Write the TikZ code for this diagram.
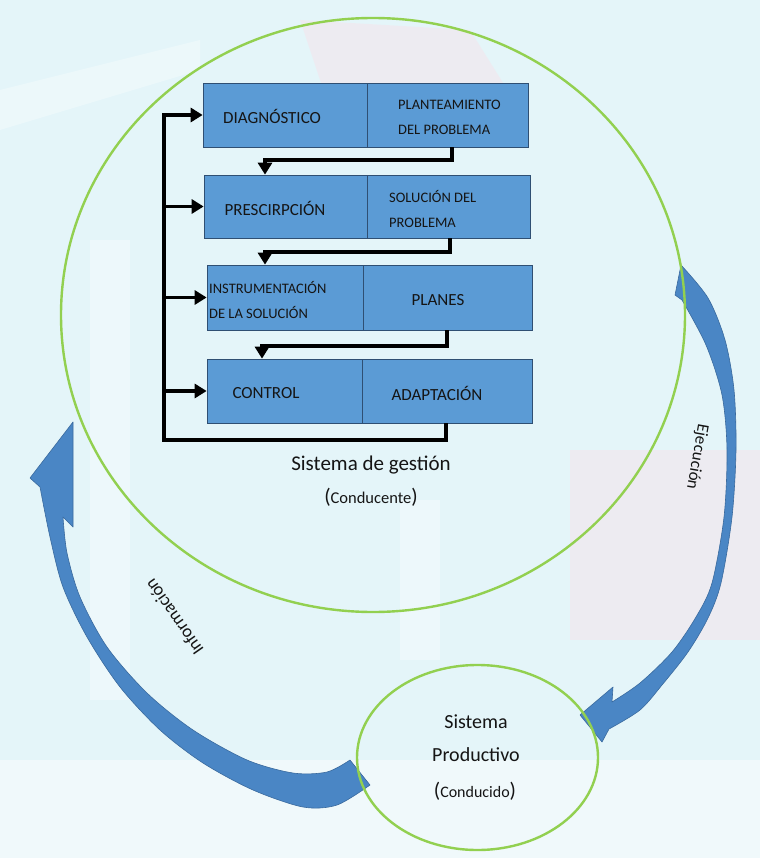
\documentclass[tikz,border=0pt]{standalone}
\usepackage{fontspec}
\setmainfont{Carlito}
\usetikzlibrary{arrows.meta,shapes.geometric}
\definecolor{bg}{HTML}{E4F5F9}
\definecolor{boxblue}{HTML}{5B9BD5}
\definecolor{boxedge}{HTML}{2F4F73}
\definecolor{arrblue}{HTML}{4A86C5}
\definecolor{arredge}{HTML}{3A6A9E}
\definecolor{ringgreen}{HTML}{92D050}
\definecolor{txt}{HTML}{151515}
\definecolor{pinkish}{HTML}{F7E3EA}
\begin{document}
\begin{tikzpicture}[x=1pt,y=-1pt,
  half/.style={draw=boxedge, line width=0.7pt, fill=boxblue, inner sep=0pt},
  lbl/.style={font=\fontsize{17}{20}\selectfont, text=txt, inner sep=0pt},
  lbltwo/.style={font=\fontsize{14.5}{25}\selectfont, text=txt, align=left, inner sep=0pt, anchor=west},
  flow/.style={line width=3.2pt, draw=black, line join=miter},
  arr/.style={flow, -{Triangle[length=12pt,width=14pt]}},
  ring/.style={draw=ringgreen, line width=2.4pt, ellipse, inner sep=0pt},
  bigarrow/.style={fill=arrblue, draw=arredge, line width=0.6pt, line join=round},
  caption/.style={text=txt, inner sep=0pt, align=center}
]
\useasboundingbox (0,0) rectangle (760,858);
\fill[bg] (0,0) rectangle (760,858);
% faint background photo hints
\fill[pinkish, opacity=0.5] (300,20) -- (470,30) -- (520,110) -- (330,110) -- cycle;
\fill[pinkish, opacity=0.5] (570,450) rectangle (760,640);
\fill[white, opacity=0.3] (0,90) -- (200,40) -- (200,70) -- (0,130) -- cycle;
\fill[white, opacity=0.35] (90,240) rectangle (130,700);
\fill[white, opacity=0.35] (400,500) rectangle (440,660);
\fill[white, opacity=0.45] (0,760) rectangle (760,858);

% Blue curved arrows
% Ejecucion
\path[bigarrow] plot[smooth] coordinates {(681,265) (708,298) (725,340) (734,390) (736,450) (732,517) (721,583) (708,618) (688,652) (662,685) (640,710) (609,729)}
  -- (602,742) -- (580,715) -- (613,687) -- (612,702)
  -- plot[smooth] coordinates {(612,702) (640,683) (672,652) (696,617) (712,583) (724,517) (727,450) (722,395) (706,345) (682,300)}
  -- (675,295) -- cycle;
% Informacion
\path[bigarrow] plot[smooth] coordinates {(40,487) (50,537) (63,587) (87,637) (120,687) (160,730) (203,763) (253,790) (303,807) (337,805) (370,785)}
  -- (350,760)
  -- plot[smooth] coordinates {(350,760) (327,772) (293,773) (247,760) (193,730) (147,693) (107,647) (80,597) (67,553) (63,517)}
  -- (73,527) -- (73,422) -- (30,478) -- cycle;

% Rings
\node[ring, minimum width=624pt, minimum height=594pt] (gestion) at (373,315) {};
\node[ring, minimum width=241pt, minimum height=185pt] (productivo) at (477.5,757.5) {};

% Boxes
\node[half, minimum width=164pt, minimum height=64pt] (b1l) at (285,115) {};
\node[half, minimum width=161pt, minimum height=64pt] (b1r) at (447.5,115) {};
\node[half, minimum width=163pt, minimum height=63pt] (b2l) at (285.5,206.5) {};
\node[half, minimum width=163pt, minimum height=63pt] (b2r) at (448.5,206.5) {};
\node[half, minimum width=156pt, minimum height=65pt] (b3l) at (285,297.5) {};
\node[half, minimum width=169pt, minimum height=65pt] (b3r) at (447.5,297.5) {};
\node[half, minimum width=155pt, minimum height=64pt] (b4l) at (284.5,391) {};
\node[half, minimum width=170pt, minimum height=64pt] (b4r) at (447,391) {};

% Box texts
\node[lbl] (t1l) at (272,116) {DIAGNÓSTICO};
\node[lbltwo] (t1r) at (398,117) {PLANTEAMIENTO\\DEL PROBLEMA};
\node[lbl] (t2l) at (275,208) {PRESCIRPCIÓN};
\node[lbltwo] (t2r) at (389,208.5) {SOLUCIÓN DEL\\PROBLEMA};
\node[lbltwo] (t3l) at (209,299.5) {INSTRUMENTACIÓN\\DE LA SOLUCIÓN};
\node[lbl] (t3r) at (438,300) {PLANES};
\node[lbl] (t4l) at (266,393) {CONTROL};
\node[lbl] (t4r) at (437,393) {ADAPTACIÓN};

% Connectors
\coordinate (s) at (164,440);
\coordinate (r) at (446,440);
\draw[arr] (b4r.south -| r) -- (r) -- (s) -- (s |- b1l.west) -- (b1l.west);
\draw[arr] (s |- b2l.west) -- (b2l.west);
\draw[arr] (s |- b3l.west) -- (b3l.west);
\draw[arr] (s |- b4l.west) -- (b4l.west);

\coordinate (k1) at (452,160); \coordinate (h1) at (265,160);
\coordinate (k2) at (450,252); \coordinate (h2) at (265,252);
\coordinate (k3) at (447,346); \coordinate (h3) at (262,346);
\draw[arr] (b1r.south -| k1) -- (k1) -- (h1) -- (b2l.north -| h1);
\draw[arr] (b2r.south -| k2) -- (k2) -- (h2) -- (b3l.north -| h2);
\draw[arr] (b3r.south -| k3) -- (k3) -- (h3) -- (b4l.north -| h3);

% Captions
\node[caption, font=\fontsize{21}{25}\selectfont] (cap1) at (371,465) {Sistema de gestión};
\node[caption] (cap2) at (371,497) {\fontsize{21}{25}\selectfont(\fontsize{16.5}{20}\selectfont Conducente\fontsize{21}{25}\selectfont)};
\node[caption, font=\fontsize{20}{33}\selectfont] (cap3) at (476,738) {Sistema\\Productivo};
\node[caption] (cap4) at (475,791) {\fontsize{21}{25}\selectfont(\fontsize{16}{20}\selectfont Conducido\fontsize{21}{25}\selectfont)};

\node[caption, font=\fontsize{17}{20}\selectfont, rotate=-100] (ejec) at (697,457) {Ejecución};
\node[caption, font=\fontsize{18}{20}\selectfont, rotate=125] (info) at (174,617) {Información};
\end{tikzpicture}
\end{document}
